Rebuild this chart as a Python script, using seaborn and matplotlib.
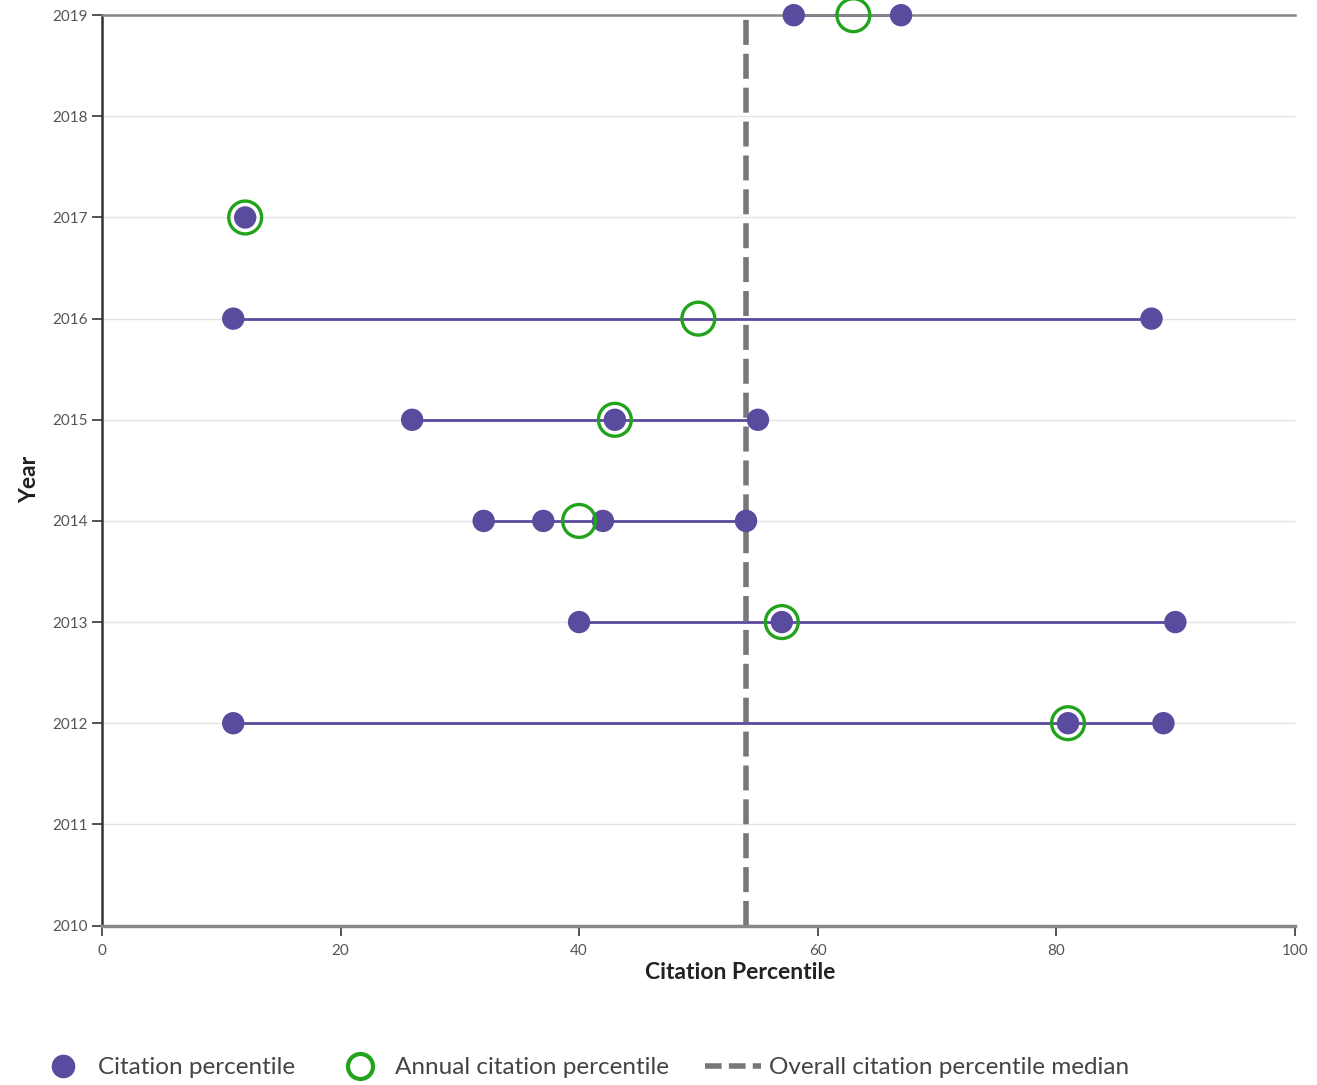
import matplotlib
matplotlib.use("Agg")
import matplotlib.pyplot as plt
from matplotlib.lines import Line2D
import seaborn as sns
import pandas as pd

# ---- data ----
point_years = [2019, 2019, 2017, 2016, 2016, 2015, 2015, 2015,
               2014, 2014, 2014, 2014, 2013, 2013, 2013, 2012, 2012, 2012]
point_pct = [58, 67, 12, 11, 88, 26, 43, 55,
             32, 37, 42, 54, 40, 57, 90, 11, 81, 89]
annual_years = [2019, 2017, 2016, 2015, 2014, 2013, 2012]
annual_pct = [63, 12, 50, 43, 40, 57, 81]
overall_median = 54
year_ticks = list(range(2010, 2020))
x_ticks = [0, 20, 40, 60, 80, 100]

PURPLE = "#5b4b9f"
GREEN = "#22a31c"
GRAY = "#777777"

sns.set_theme(style="white")
plt.rcParams["font.family"] = ["Lato", "DejaVu Sans"]

pts = pd.DataFrame({"year": point_years, "pct": point_pct})
ann = pd.DataFrame({"year": annual_years, "pct": annual_pct})

fig = plt.figure(figsize=(13.17, 10.85), dpi=100)
ax = fig.add_axes([0.0775, 0.147, 0.9055, 0.839])

for y in year_ticks:
    ax.axhline(y, color="#e4e4e4", lw=1, zorder=0)

sns.lineplot(data=pts, x="pct", y="year", units="year", estimator=None,
             color=PURPLE, lw=2, ax=ax, zorder=2, legend=False)
ax.axvline(overall_median, color=GRAY, lw=4, dashes=(4.5, 1.6), zorder=1)
sns.scatterplot(data=pts, x="pct", y="year", color=PURPLE, s=260,
                edgecolor="none", ax=ax, zorder=3, legend=False)
sns.scatterplot(data=ann, x="pct", y="year", s=560, facecolor="none",
                edgecolor=GREEN, linewidth=2.4, ax=ax, zorder=4, legend=False)
for artist in list(ax.collections) + list(ax.lines):
    artist.set_clip_on(False)

ax.set_xlim(0, 100)
ax.set_ylim(2010, 2019)
ax.set_xticks(x_ticks)
ax.set_yticks(year_ticks)
ax.tick_params(axis="both", which="both", length=7, width=1.3, color="#444444",
               labelsize=11, labelcolor="#555555", direction="out",
               bottom=True, left=True)
ax.tick_params(axis="x", pad=6)
ax.tick_params(axis="y", pad=3)

ax.spines["right"].set_visible(False)
ax.spines["left"].set_color("#333333")
ax.spines["left"].set_linewidth(1.8)
ax.spines["bottom"].set_color("#888888")
ax.spines["bottom"].set_linewidth(2.5)
ax.spines["top"].set_color("#888888")
ax.spines["top"].set_linewidth(1.8)

ax.set_xlabel("Citation Percentile", fontsize=16.5, fontweight="bold",
              color="#222222", labelpad=4)
ax.xaxis.set_label_coords(0.535, -0.04)
ax.set_ylabel("Year", fontsize=16.5, fontweight="bold", color="#222222")
ax.yaxis.set_label_coords(-0.052, 0.49)

handles = [
    Line2D([], [], marker="o", ls="none", color=PURPLE, markersize=17,
           markeredgewidth=0),
    Line2D([], [], marker="o", ls="none", markerfacecolor="none",
           markeredgecolor=GREEN, markersize=18, markeredgewidth=3),
    Line2D([], [], color=GRAY, lw=4, dashes=(3, 1.3)),
]
labels = ["Citation percentile", "Annual citation percentile",
          "Overall citation percentile median"]
leg = fig.legend(handles, labels, loc="lower left", bbox_to_anchor=(0.01, -0.014),
                 ncol=3, frameon=False, fontsize=17.5, labelcolor="#444444",
                 handlelength=2.3, handletextpad=0.3, columnspacing=1.5)

fig.savefig("out.png", dpi=100, facecolor="white")
